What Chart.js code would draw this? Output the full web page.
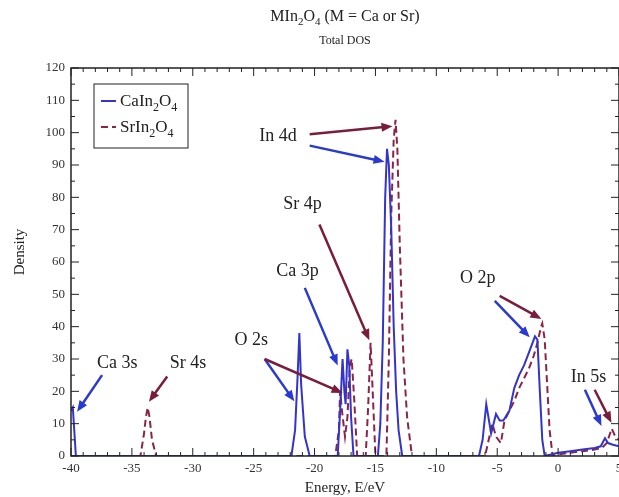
<!DOCTYPE html>
<html><head><meta charset="utf-8">
<script src="https://cdn.jsdelivr.net/npm/chart.js@4"></script>
<style>
html,body{margin:0;padding:0;background:#fff;overflow:hidden;width:619px;height:497px}
#wrap{position:relative;width:650px;height:497px}
</style></head>
<body><div id="wrap"><canvas id="c" width="650" height="497"></canvas></div>
<script>
// ---- data ----
const energyCa = [-40,-39.85,-39.75,-39.6,
  -21.9,-21.6,-21.4,-21.25,-21.1,-20.8,-20.4,
  -18.1,-17.9,-17.7,-17.55,-17.45,-17.3,-17.15,-17.0,-16.8,
  -14.8,-14.6,-14.4,-14.2,-14.05,-13.9,-13.7,-13.5,-13.3,-13.1,-12.8,
  -6.5,-6.2,-5.9,-5.5,-5.1,-4.8,-4.5,-4.0,-3.6,-3.2,-2.8,-2.4,-2.1,-1.9,-1.7,-1.5,-1.3,-1.1,
  0,1,2,3,3.5,3.85,4.1,4.5,5];
const dosCa = [14,15,9,0,
  0,8,24,38,22,6,0,
  0,14,30,20,16,33,28,12,0,
  0,10,35,80,95,90,70,40,20,8,0,
  0,5,16,7,13,11,11,14,21,25,28,32,35,37,36,20,5,0,
  1,1.5,2,2.5,3,5.5,4,3.5,3];
const energySr = [-40,-34.3,-34.0,-33.85,-33.7,-33.55,-33.35,-33.0,
  -18.3,-18.0,-17.9,-17.75,-17.5,-17.3,-17.1,-16.95,-16.75,-16.5,
  -15.8,-15.6,-15.4,-15.25,-15.0,
  -14.1,-13.9,-13.7,-13.5,-13.35,-13.2,-13.0,-12.7,-12.4,-12.0,
  -6.0,-5.7,-5.4,-5.1,-4.7,-4.4,-4.0,-3.6,-3.2,-2.8,-2.4,-2.0,-1.7,-1.4,-1.3,-1.1,-0.9,-0.7,-0.45,
  0,1,2,3,3.6,4.0,4.4,4.7,5];
const dosSr = [0,0,7,12,15,12,5,0,
  0,8,20,14,6,12,28,30,18,0,
  0,15,35,22,0,
  0,30,75,98,104,95,65,30,12,0,
  0,5,10,6,4,11,14,17,21,24,27,31,35,40,41,36,22,8,0,
  0.5,1,1.5,2,2.5,4,8.5,6,5];
const xTicks = [-40,-35,-30,-25,-20,-15,-10,-5,0,5];
const yTicks = [0,10,20,30,40,50,60,70,80,90,100,110,120];
const seriesNames = ['CaIn2O4','SrIn2O4'];
// annotation labels (energy, density)
const labelTexts = ['Ca 3s','Sr 4s','O 2s','Ca 3p','Sr 4p','In 4d','O 2p','In 5s'];
const labelE = [-36.2,-30.4,-25.2,-21.4,-21.0,-23.0,-6.6,2.5];
const labelV = [28.7,28.7,35.8,57,78,99,55,24.5];
// arrows: from (E,V) to (E,V), series index for colour
const arrowFromE = [-37.45,-32.1,-24.1,-24.1,-20.8,-19.6,-20.4,-20.4,-4.8,-5.2,2.2,3.0];
const arrowFromV = [25,24.6,30,30,52,71.6,99.5,96,49.5,48,20.5,20.5];
const arrowToE   = [-39.5,-33.6,-21.66,-17.7,-18.1,-15.5,-13.6,-14.25,-1.37,-2.33,3.56,4.38];
const arrowToV   = [13.7,16.8,16.9,19.5,28,35.8,102,91,42.4,36.7,9.3,10.3];
const arrowSeries= [0,1,0,1,0,1,1,0,1,0,0,1];

const BLUE = '#3434cc', RED = '#8a2448';
const ARROW = ['#2a3ad0','#7a1c3c'];
const SERIF = '"Liberation Serif", "DejaVu Serif", serif';

function pts(xs, ys){ return xs.map((x,i)=>({x:x, y:ys[i]})); }

function drawParts(ctx, parts, x, y, size, align){
  const sub = Math.round(size*0.7);
  let w = 0;
  parts.forEach(p=>{ ctx.font = (p[1]?sub:size)+'px '+SERIF; w += ctx.measureText(p[0]).width; });
  let cx = align==='center' ? x - w/2 : x;
  ctx.textBaseline = 'alphabetic'; ctx.textAlign = 'left';
  parts.forEach(p=>{
    ctx.font = (p[1]?sub:size)+'px '+SERIF;
    ctx.fillText(p[0], cx, y + (p[1]? size*0.28 : 0));
    cx += ctx.measureText(p[0]).width;
  });
}
function splitFormula(s){
  const out=[]; let cur='';
  for (const ch of s){
    if (/[0-9]/.test(ch)) { if(cur) out.push([cur,false]); cur=''; out.push([ch,true]); }
    else cur+=ch;
  }
  if(cur) out.push([cur,false]);
  return out;
}

const framePlugin = {
  id:'frame',
  afterDatasetsDraw(chart){
    const {ctx, chartArea:a, scales:{x,y}} = chart;
    ctx.save();
    ctx.strokeStyle = '#222'; ctx.lineWidth = 1.5;
    ctx.strokeRect(a.left, a.top, a.right-a.left, a.bottom-a.top);
    ctx.lineWidth = 1;
    for (let v=-40; v<=5; v+=1){
      const px = x.getPixelForValue(v);
      const L = (v%5===0)?8:4;
      ctx.beginPath(); ctx.moveTo(px,a.bottom); ctx.lineTo(px,a.bottom-L);
      ctx.moveTo(px,a.top); ctx.lineTo(px,a.top+L); ctx.stroke();
    }
    for (let v=0; v<=120; v+=5){
      const py = y.getPixelForValue(v);
      const L = (v%10===0)?8:4;
      ctx.beginPath(); ctx.moveTo(a.left,py); ctx.lineTo(a.left+L,py);
      ctx.moveTo(a.right,py); ctx.lineTo(a.right-L,py); ctx.stroke();
    }
    for (let i=0;i<arrowFromE.length;i++){
      const x1=x.getPixelForValue(arrowFromE[i]), y1=y.getPixelForValue(arrowFromV[i]);
      const x2=x.getPixelForValue(arrowToE[i]), y2=y.getPixelForValue(arrowToV[i]);
      const ang=Math.atan2(y2-y1,x2-x1), hl=11, hw=4.5;
      ctx.strokeStyle=ARROW[arrowSeries[i]]; ctx.fillStyle=ARROW[arrowSeries[i]];
      ctx.lineWidth=2.5;
      ctx.beginPath(); ctx.moveTo(x1,y1);
      ctx.lineTo(x2-Math.cos(ang)*hl*0.8, y2-Math.sin(ang)*hl*0.8); ctx.stroke();
      ctx.beginPath(); ctx.moveTo(x2,y2);
      ctx.lineTo(x2-Math.cos(ang)*hl - Math.sin(ang)*hw, y2-Math.sin(ang)*hl + Math.cos(ang)*hw);
      ctx.lineTo(x2-Math.cos(ang)*hl + Math.sin(ang)*hw, y2-Math.sin(ang)*hl - Math.cos(ang)*hw);
      ctx.closePath(); ctx.fill();
    }
    ctx.fillStyle='#222'; ctx.textAlign='center'; ctx.textBaseline='middle';
    ctx.font='18px '+SERIF;
    labelTexts.forEach((t,i)=>{
      ctx.fillText(t, x.getPixelForValue(labelE[i]), y.getPixelForValue(labelV[i]));
    });
    // legend
    const lx=94, ly=84, lw=94, lh=64;
    ctx.fillStyle='#fff'; ctx.fillRect(lx,ly,lw,lh);
    ctx.strokeStyle='#222'; ctx.lineWidth=1; ctx.strokeRect(lx,ly,lw,lh);
    const rows=[ly+22, ly+48];
    [BLUE,RED].forEach((c,i)=>{
      ctx.strokeStyle=c; ctx.lineWidth=2;
      ctx.setLineDash(i===1?[7,4]:[]);
      ctx.beginPath(); ctx.moveTo(lx+7,rows[i]-5); ctx.lineTo(lx+22,rows[i]-5); ctx.stroke();
      ctx.setLineDash([]);
      ctx.fillStyle='#222';
      drawParts(ctx, splitFormula(seriesNames[i]), lx+26, rows[i], 17, 'left');
    });
    // y axis title
    ctx.save();
    ctx.translate(20, 252); ctx.rotate(-Math.PI/2);
    ctx.font='15px '+SERIF; ctx.fillStyle='#222'; ctx.textAlign='center'; ctx.textBaseline='middle';
    ctx.fillText('Density', 0, 0);
    ctx.restore();
    ctx.restore();
  },
  afterDraw(chart){
    const {ctx, chartArea:a} = chart;
    const cx=(a.left+a.right)/2;
    ctx.save(); ctx.fillStyle='#222';
    drawParts(ctx, [['MIn',false],['2',true],['O',false],['4',true],[' (M = Ca or Sr)',false]], cx, 21, 16, 'center');
    ctx.font='12px '+SERIF; ctx.textAlign='center'; ctx.textBaseline='alphabetic';
    ctx.fillText('Total DOS', cx, 44);
    ctx.restore();
  }
};

new Chart(document.getElementById('c'), {
  type:'scatter',
  data:{ datasets:[
    {label:seriesNames[0], data:pts(energyCa,dosCa), showLine:true, borderColor:BLUE, backgroundColor:BLUE, borderWidth:2, pointRadius:0, tension:0},
    {label:seriesNames[1], data:pts(energySr,dosSr), showLine:true, borderColor:RED, backgroundColor:RED, borderWidth:2, borderDash:[7,4], pointRadius:0, tension:0}
  ]},
  options:{
    responsive:false, animation:false, devicePixelRatio:1,
    layout:{padding:{top:68,right:31,left:0,bottom:0}},
    plugins:{legend:{display:false}, tooltip:{enabled:false}, title:{display:false}},
    scales:{
      x:{type:'linear', min:-40, max:5,
        afterBuildTicks:s=>{ s.ticks = xTicks.map(v=>({value:v})); },
        afterFit:s=>{ s.height=41; },
        grid:{display:false, drawTicks:false}, border:{display:false},
        ticks:{font:{family:SERIF,size:13}, color:'#333', padding:5, maxRotation:0, autoSkip:false},
        title:{display:true, text:'Energy, E/eV', font:{family:SERIF,size:15}, color:'#222', padding:{top:0,bottom:0}}
      },
      y:{min:0, max:120,
        afterBuildTicks:s=>{ s.ticks = yTicks.map(v=>({value:v})); },
        afterFit:s=>{ s.width=71; },
        grid:{display:false, drawTicks:false}, border:{display:false},
        ticks:{font:{family:SERIF,size:13}, color:'#333', padding:6}
      }
    }
  },
  plugins:[framePlugin]
});
</script></body></html>
